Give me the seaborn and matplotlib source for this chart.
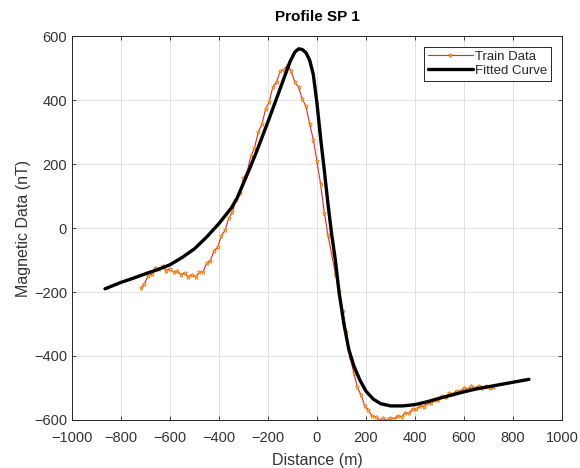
import pandas as pd
import numpy as np
import matplotlib
matplotlib.use('Agg')
import matplotlib.pyplot as plt
import seaborn as sns

# Train data (distance in m, field in nT)
train_x = [-720, -705, -690, -675, -660, -645, -630, -615, -600, -585, -570, -555,
           -540, -525, -510, -495, -480, -465, -450, -435, -420, -405, -390, -375,
           -360, -345, -330, -315, -300, -285, -270, -255, -240, -225, -210, -195,
           -180, -165, -150, -135, -120, -105, -90, -75, -60, -45, -30, -15,
           0, 15, 30, 45, 60, 75, 90, 105, 120, 135, 150, 165,
           180, 195, 210, 225, 240, 255, 270, 285, 300, 315, 330, 345,
           360, 375, 390, 405, 420, 435, 450, 465, 480, 495, 510, 525,
           540, 555, 570, 585, 600, 615, 630, 645, 660, 675, 690, 705, 720]
train_y = [-188, -176, -150, -145, -124, -129, -120, -133, -127, -139, -135, -146,
           -140, -153, -146, -152, -139, -137, -110, -102, -71, -60, -24, -7,
           31, 50, 88, 109, 155, 176, 224, 250, 299, 324, 371, 394,
           441, 456, 490, 495, 510, 490, 455, 440, 404, 380, 326, 276,
           209, 136, 48, -22, -82, -143, -198, -258, -326, -404, -452, -498,
           -522, -556, -569, -589, -590, -600, -595, -601, -593, -596, -587, -590,
           -578, -579, -566, -567, -556, -558, -547, -548, -536, -537, -526, -527,
           -517, -519, -508, -510, -500, -503, -495, -500, -494, -499, -494, -501, -498]

# Fitted model curve
fit_x = [-865, -800, -750, -700, -650, -600, -550, -500, -450, -400, -350, -325,
         -300, -275, -250, -225, -200, -160, -130, -110, -90, -75, -60, -45,
         -30, -15, 0, 15, 30, 45, 60, 75, 90, 110, 130, 150,
         175, 200, 230, 260, 300, 350, 400, 450, 500, 550, 600, 650,
         700, 750, 800, 865]
fit_y = [-190, -170, -157, -143, -130, -115, -92, -65, -28, 14, 62, 95,
         140, 185, 232, 282, 332, 415, 478, 520, 550, 560, 558, 548,
         525, 480, 390, 280, 180, 75, -20, -100, -200, -300, -380, -430,
         -475, -510, -535, -549, -556, -556, -552, -543, -532, -522, -512, -503,
         -496, -489, -482, -473]

train = pd.DataFrame({'Distance': train_x, 'Magnetic': train_y})
fit = pd.DataFrame({'Distance': fit_x, 'Magnetic': fit_y})

sns.set_style('ticks')
plt.rcParams['font.family'] = ['Liberation Sans', 'DejaVu Sans']

fig = plt.figure(figsize=(5.8, 4.68), dpi=100)
ax = fig.add_axes([0.124, 0.1026, 0.845, 0.8204])

sns.lineplot(data=train, x='Distance', y='Magnetic', ax=ax, estimator=None, sort=False,
             color='#e8281e', linewidth=0.8, marker='*', markersize=3.6,
             markerfacecolor='#ffb80e', markeredgecolor='#f06a18', markeredgewidth=0.4,
             label='Train Data')
sns.lineplot(data=fit, x='Distance', y='Magnetic', ax=ax, estimator=None, sort=False,
             color='black', linewidth=2.4, label='Fitted Curve')

ax.set_xlim(-1000, 1000)
ax.set_ylim(-600, 600)
ax.set_xticks(range(-1000, 1001, 200))
ax.set_yticks(range(-600, 601, 200))
ax.grid(True, color='#dcdcdc', linewidth=0.6)
ax.set_axisbelow(True)
for s in ax.spines.values():
    s.set_color('#262626')
    s.set_linewidth(0.7)
ax.tick_params(direction='in', top=True, right=True, length=3, width=0.6,
               colors='#262626', labelsize=10.5, labelcolor='#333333')
ax.tick_params(axis='x', pad=8)

ax.set_title('Profile SP 1', fontsize=11, fontweight='bold', color='black', pad=11)
ax.set_xlabel('Distance (m)', fontsize=11.5, color='#333333', labelpad=6)
ax.set_ylabel('Magnetic Data (nT)', fontsize=11.5, color='#333333', labelpad=2)

leg = ax.legend(loc='upper right', fontsize=9.5, fancybox=False, framealpha=1,
                edgecolor='#262626', handlelength=3.4, borderpad=0.3,
                labelspacing=0.15, handletextpad=0.2, borderaxespad=0.8)
leg.get_frame().set_linewidth(0.7)

plt.savefig('out.png', dpi=100)
plt.close()
print('Done')
